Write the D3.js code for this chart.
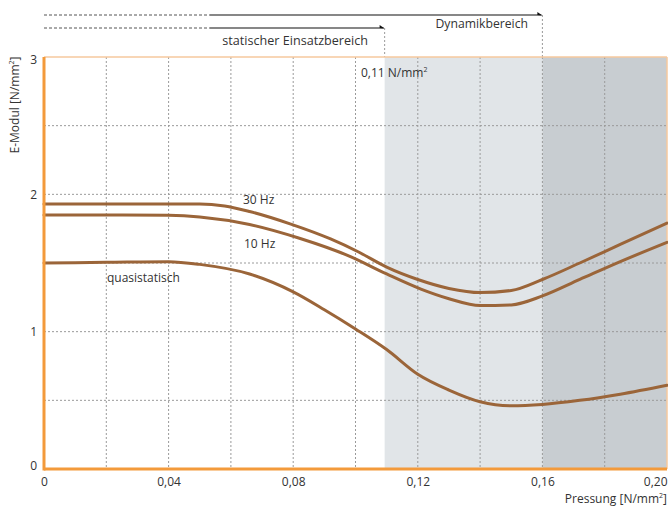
<!DOCTYPE html>
<html><head><meta charset="utf-8">
<script src="https://cdn.jsdelivr.net/npm/d3@7"></script>
<style>
html,body{margin:0;padding:0;background:#fff;}
svg text{font-family:"Open Sans",sans-serif;fill:#333;}
</style></head>
<body><svg id="c" width="668" height="506"></svg>
<script>
// Data
const xTicks = [0, 0.04, 0.08, 0.12, 0.16, 0.20];
const yTicks = [0, 1, 2, 3];
const xGrid = [0.02, 0.04, 0.06, 0.08, 0.10, 0.12, 0.14, 0.16, 0.18];
const yGrid = [0.5, 1, 1.5, 2, 2.5];
const pressure30 = [0, 0.02, 0.05, 0.058, 0.066, 0.079, 0.092, 0.101, 0.11, 0.12, 0.13, 0.14, 0.15, 0.16, 0.172, 0.185, 0.2];
const hz30 = [1.93, 1.93, 1.93, 1.915, 1.875, 1.785, 1.675, 1.58, 1.47, 1.38, 1.315, 1.285, 1.30, 1.38, 1.50, 1.635, 1.79];
const pressure10 = [0, 0.02, 0.04, 0.05, 0.066, 0.082, 0.098, 0.11, 0.121, 0.13, 0.14, 0.15, 0.16, 0.172, 0.185, 0.2];
const hz10 = [1.85, 1.85, 1.847, 1.835, 1.78, 1.68, 1.55, 1.42, 1.31, 1.24, 1.19, 1.195, 1.26, 1.38, 1.51, 1.65];
const pressureQ = [0, 0.02, 0.04, 0.05, 0.066, 0.08, 0.09, 0.10, 0.11, 0.12, 0.13, 0.14, 0.15, 0.16, 0.172, 0.185, 0.2];
const quasi = [1.50, 1.505, 1.51, 1.49, 1.42, 1.29, 1.16, 1.02, 0.87, 0.69, 0.575, 0.49, 0.46, 0.47, 0.50, 0.545, 0.61];
const zoneStatic = 0.11;
const zoneDynamic = 0.16;
const seriesLabels = ["30 Hz", "10 Hz", "quasistatisch"];

const svg = d3.select("#c");
const x = d3.scaleLinear().domain([0, 0.2]).range([44, 667]);
const y = d3.scaleLinear().domain([0, 3]).range([469, 57]);
const fmt = d => d3.format(".2f")(d).replace(".", ",");
const zx = v => x(v) - 2;

// shaded zones
svg.append("rect").attr("x", zx(zoneStatic)).attr("y", y(3)).attr("width", x(zoneDynamic) - zx(zoneStatic)).attr("height", y(0) - y(3)).attr("fill", "#e1e5e8");
svg.append("rect").attr("x", x(zoneDynamic)).attr("y", y(3)).attr("width", x(0.2) - x(zoneDynamic)).attr("height", y(0) - y(3)).attr("fill", "#c8cdd1");

// grid
svg.append("g").selectAll("line").data(xGrid).join("line")
  .attr("x1", d => x(d)).attr("x2", d => x(d)).attr("y1", y(3)).attr("y2", y(0))
  .attr("stroke", "#9a9a9a").attr("stroke-width", 1).attr("stroke-dasharray", "2,2");
svg.append("g").selectAll("line").data(yGrid).join("line")
  .attr("x1", x(0)).attr("x2", x(0.2)).attr("y1", d => y(d)).attr("y2", d => y(d))
  .attr("stroke", "#9a9a9a").attr("stroke-width", 1).attr("stroke-dasharray", "2,2");

// top annotation
const ann = svg.append("g");
[[15, x(zoneDynamic)], [28, zx(zoneStatic)]].forEach(([yy, xe]) => {
  ann.append("line").attr("x1", x(0)).attr("x2", 210).attr("y1", yy).attr("y2", yy)
    .attr("stroke", "#555").attr("stroke-dasharray", "3,2").attr("stroke-width", 1);
  ann.append("line").attr("x1", 210).attr("x2", xe - 1).attr("y1", yy).attr("y2", yy)
    .attr("stroke", "#111").attr("stroke-width", 1.2);
  ann.append("path").attr("d", `M${xe},${yy + 0.5} l-5,-3.5 l0,3 z`).attr("fill", "#111");
  ann.append("line").attr("x1", xe).attr("x2", xe).attr("y1", yy).attr("y2", y(3))
    .attr("stroke", "#9a9a9a").attr("stroke-dasharray", "2,2");
});
ann.append("text").attr("x", 528).attr("y", 28).attr("text-anchor", "end").attr("font-size", 12.2).text("Dynamikbereich");
ann.append("text").attr("x", 368).attr("y", 45).attr("text-anchor", "end").attr("font-size", 12.6).text("statischer Einsatzbereich");
const t011 = svg.append("text").attr("x", 361).attr("y", 77).attr("font-size", 12);
t011.append("tspan").text("0,11 N/mm");
t011.append("tspan").attr("font-size", 7).attr("dy", -5).text("2");

// frame
svg.append("line").attr("x1", x(0)).attr("x2", x(0.2)).attr("y1", y(3)).attr("y2", y(3)).attr("stroke", "#f6c89e").attr("stroke-width", 1.5);
svg.append("line").attr("x1", x(0.2)).attr("x2", x(0.2)).attr("y1", y(3)).attr("y2", y(0)).attr("stroke", "#f6c89e").attr("stroke-width", 1.5);

// curves
const line = d3.line().x(d => x(d[0])).y(d => y(d[1])).curve(d3.curveMonotoneX);
const sets = [d3.zip(pressure30, hz30), d3.zip(pressure10, hz10), d3.zip(pressureQ, quasi)];
svg.append("g").selectAll("path").data(sets).join("path")
  .attr("d", line).attr("fill", "none").attr("stroke", "#9b6539").attr("stroke-width", 3).attr("stroke-linecap", "round");

// series labels
svg.append("text").attr("x", 243).attr("y", 204).attr("font-size", 12).text(seriesLabels[0]);
svg.append("text").attr("x", 244).attr("y", 248).attr("font-size", 12).text(seriesLabels[1]);
svg.append("text").attr("x", 107).attr("y", 282).attr("font-size", 12).text(seriesLabels[2]);

// axes
const xAxis = svg.append("g").attr("transform", `translate(0,${y(0)})`)
  .call(d3.axisBottom(x).tickValues(xTicks).tickFormat(d => d === 0 ? "0" : fmt(d)).tickSize(0).tickPadding(8));
xAxis.select(".domain").remove();
xAxis.selectAll("text").attr("font-size", 12).attr("fill", "#333").style("font-family", '"Open Sans",sans-serif');
xAxis.selectAll(".tick").filter(d => d === 0.2).select("text").attr("text-anchor", "end").attr("dx", 0);
const yAxis = svg.append("g").attr("transform", `translate(${x(0)},0)`)
  .call(d3.axisLeft(y).tickValues(yTicks).tickFormat(d3.format("d")).tickSize(0).tickPadding(7));
yAxis.select(".domain").remove();
yAxis.selectAll("text").attr("font-size", 12).attr("fill", "#333").style("font-family", '"Open Sans",sans-serif');
yAxis.selectAll(".tick").filter(d => d === 0).select("text").attr("dy", "0.05em");
yAxis.selectAll(".tick").filter(d => d === 3).select("text").attr("dy", "0.55em");

svg.append("line").attr("x1", x(0)).attr("x2", x(0)).attr("y1", y(3)).attr("y2", y(0) + 1.5).attr("stroke", "#f39a3b").attr("stroke-width", 3);
svg.append("line").attr("x1", x(0)).attr("x2", x(0.2)).attr("y1", y(0)).attr("y2", y(0)).attr("stroke", "#f39a3b").attr("stroke-width", 3);

// axis titles
const xt = svg.append("text").attr("x", 667).attr("y", 503).attr("text-anchor", "end").attr("font-size", 12);
xt.append("tspan").text("Pressung [N/mm");
xt.append("tspan").attr("font-size", 7).attr("dy", -5).text("2");
xt.append("tspan").attr("dy", 5).text("]");
const yt = svg.append("text").attr("transform", "translate(19,105) rotate(-90)").attr("text-anchor", "middle").attr("font-size", 12);
yt.append("tspan").text("E-Modul [N/mm");
yt.append("tspan").attr("font-size", 7).attr("dy", -5).text("2");
yt.append("tspan").attr("dy", 5).text("]");
</script></body></html>
